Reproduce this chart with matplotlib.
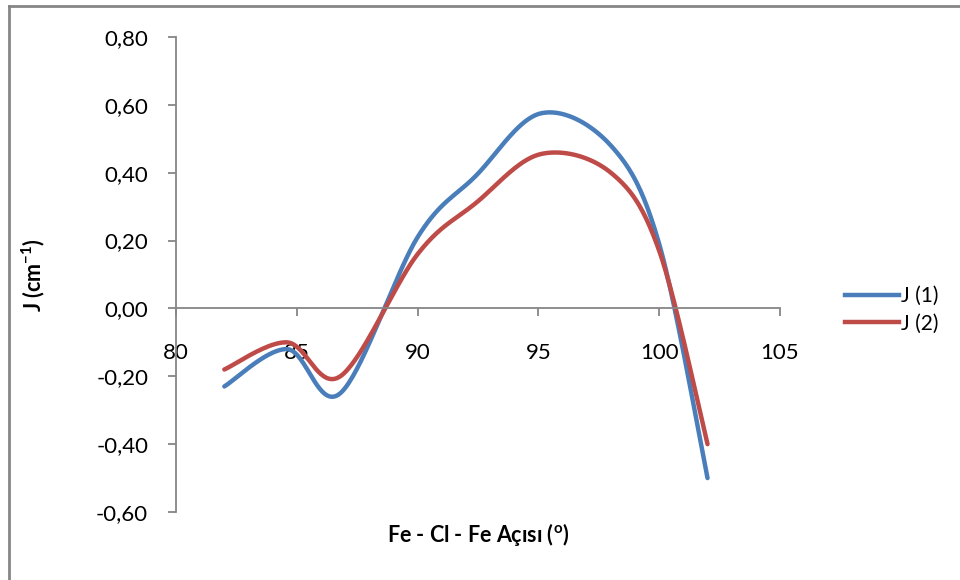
import numpy as np
import matplotlib.pyplot as plt
from matplotlib.lines import Line2D

# Fe-Cl-Fe angle (deg) and exchange constants J (cm-1)
angle = [82.0, 84.6, 86.8, 90.0, 92.4, 95.1, 98.0, 100.0, 102.0]
j1 = [-0.23, -0.12, -0.25, 0.21, 0.39, 0.575, 0.48, 0.19, -0.50]
j2 = [-0.18, -0.10, -0.20, 0.16, 0.31, 0.455, 0.40, 0.17, -0.40]

x_ticks = [80, 85, 90, 95, 100, 105]
y_ticks = [-0.6, -0.4, -0.2, 0.0, 0.2, 0.4, 0.6, 0.8]

BLUE = '#4a7ebb'
RED = '#be4b48'
GRAY = '#868686'

plt.rcParams['font.family'] = ['Lato', 'DejaVu Sans']
plt.rcParams['mathtext.fontset'] = 'custom'
plt.rcParams['mathtext.rm'] = 'Lato'
plt.rcParams['mathtext.bf'] = 'Lato:bold'


def smooth(xs, ys, n=40):
    """Excel-style smoothed line (Catmull-Rom Bezier through the points)."""
    xs = np.asarray(xs, float)
    ys = np.asarray(ys, float)
    px = np.concatenate([[xs[0]], xs, [xs[-1]]])
    py = np.concatenate([[ys[0]], ys, [ys[-1]]])
    t = np.linspace(0, 1, n)
    outx, outy = [], []
    for i in range(1, len(px) - 2):
        p0 = np.array([px[i], py[i]])
        p3 = np.array([px[i + 1], py[i + 1]])
        c1 = p0 + (np.array([px[i + 1], py[i + 1]]) - np.array([px[i - 1], py[i - 1]])) / 6
        c2 = p3 - (np.array([px[i + 2], py[i + 2]]) - np.array([px[i], py[i]])) / 6
        b = ((1 - t) ** 3)[:, None] * p0 + (3 * (1 - t) ** 2 * t)[:, None] * c1 \
            + (3 * (1 - t) * t ** 2)[:, None] * c2 + (t ** 3)[:, None] * p3
        outx.extend(b[:, 0])
        outy.extend(b[:, 1])
    return np.array(outx), np.array(outy)


fig = plt.figure(figsize=(9.6, 5.8), dpi=100)
ax = fig.add_axes([176 / 960, 1 - 512 / 580, (780 - 176) / 960, (512 - 37) / 580])

sx, sy = smooth(angle, j1)
ax.plot(sx, sy, color=BLUE, lw=3.2, solid_capstyle='round', label='J (1)')
sx, sy = smooth(angle, j2)
ax.plot(sx, sy, color=RED, lw=3.2, solid_capstyle='round', label='J (2)')

ax.set_xlim(80, 105)
ax.set_ylim(-0.6, 0.8)
ax.set_xticks(x_ticks)
ax.set_yticks(y_ticks)
ax.set_yticklabels([f'{v:.2f}'.replace('.', ',') for v in y_ticks])

ax.spines['top'].set_visible(False)
ax.spines['right'].set_visible(False)
ax.spines['bottom'].set_position(('data', 0))
for s in ['left', 'bottom']:
    ax.spines[s].set_color(GRAY)
    ax.spines[s].set_linewidth(1.3)
ax.tick_params(axis='both', colors=GRAY, labelcolor='black', labelsize=16,
               length=6, width=1.3, direction='out')
ax.tick_params(axis='x', pad=19)
ax.tick_params(axis='y', pad=14)

fig.text(478 / 960, 1 - 535 / 580, r'Fe - Cl - Fe Açısı ($\mathbf{^{o}}$)',
         ha='center', va='center', fontsize=15.5, fontweight='bold')
fig.text(33 / 960, 1 - 275 / 580, r'J (cm$\mathbf{^{-1}}$)', rotation=90,
         ha='center', va='center', fontsize=15.5, fontweight='bold')

handles = [Line2D([], [], color=BLUE, lw=3.2), Line2D([], [], color=RED, lw=3.2)]
fig.legend(handles, ['J (1)', 'J (2)'], loc='center left',
           bbox_to_anchor=(826 / 960, 1 - 310 / 580), frameon=False,
           fontsize=15, handlelength=2.6, handletextpad=0.1, labelspacing=0.35)

# outer chart border
fig.add_artist(Line2D([9 / 960, 9 / 960], [0, 1 - 6 / 580], color=GRAY, lw=2,
                      transform=fig.transFigure))
fig.add_artist(Line2D([9 / 960, 1], [1 - 6 / 580, 1 - 6 / 580], color=GRAY, lw=2,
                      transform=fig.transFigure))

fig.savefig('out.png', dpi=100, facecolor='white')
